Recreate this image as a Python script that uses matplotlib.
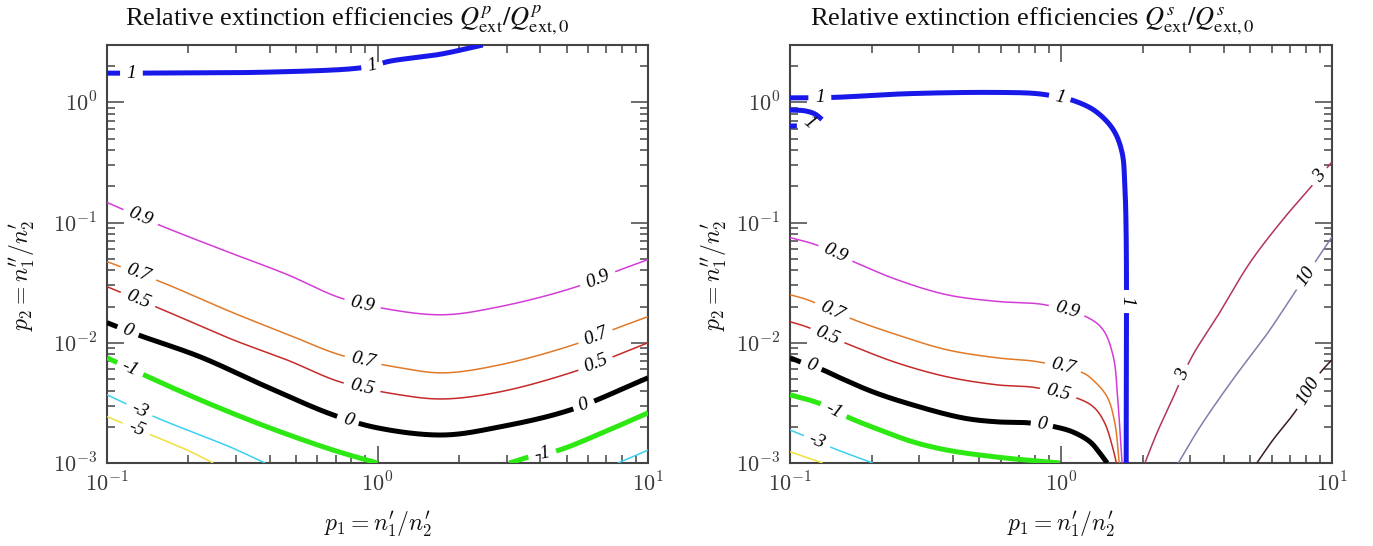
import numpy as np
import matplotlib
matplotlib.use("Agg")
import matplotlib.pyplot as plt
from matplotlib.ticker import LogLocator, FuncFormatter, NullFormatter

plt.rcParams["mathtext.fontset"] = "cm"
plt.rcParams["font.family"] = ["Liberation Serif", "DejaVu Serif"]

# ---------------- p-polarisation contours (left panel) ----------------
P_BLUE_1_X = [0.1, 0.123, 0.2, 0.377, 0.798, 0.955, 1.11, 1.70, 2.45]
P_BLUE_1_Y = [1.75, 1.75, 1.76, 1.78, 1.90, 2.01, 2.20, 2.51, 3.0]
P_BLUE_1_LBL = [(0.123, 1.75), (0.955, 2.01)]

P_MAG_09_X = [0.1, 0.1566, 0.28, 0.463, 0.726, 1.07, 1.75, 2.84, 5.3, 7.74, 10]
P_MAG_09_Y = [0.147, 0.0951, 0.057, 0.037, 0.0237, 0.0192, 0.0171, 0.020, 0.0287, 0.0398, 0.0492]
P_MAG_09_LBL = [(0.134, 0.114), (0.883, 0.0215), (6.47, 0.0348)]

P_ORA_07_X = [0.1, 0.161, 0.292, 0.463, 0.726, 1.21, 1.75, 2.84, 5.3, 7.74, 10]
P_ORA_07_Y = [0.0473, 0.0316, 0.0178, 0.0118, 0.00794, 0.0062, 0.00562, 0.00656, 0.00962, 0.01334, 0.0165]
P_ORA_07_LBL = [(0.130, 0.0369), (0.883, 0.00722), (6.37, 0.01166)]

P_RED_05_X = [0.1, 0.161, 0.292, 0.463, 0.726, 1.21, 1.75, 2.84, 5.3, 7.74, 10]
P_RED_05_Y = [0.0293, 0.0188, 0.0106, 0.0072, 0.00473, 0.00369, 0.00341, 0.00391, 0.00573, 0.00794, 0.010]
P_RED_05_LBL = [(0.130, 0.0228), (0.883, 0.00447), (6.37, 0.00695)]

P_BLK_0_X = [0.1, 0.130, 0.221, 0.390, 0.686, 1.0, 1.75, 2.84, 5.18, 10]
P_BLK_0_Y = [0.0147, 0.01166, 0.00764, 0.0043, 0.00251, 0.00196, 0.00171, 0.0020, 0.00277, 0.00511]
P_BLK_0_LBL = [(0.1197, 0.0128), (0.778, 0.00228), (5.73, 0.00316)]

P_GRN_M1_X = [0.1, 0.142, 0.221, 0.39, 0.686, 1.0]
P_GRN_M1_Y = [0.0075, 0.00521, 0.00335, 0.0020, 0.00128, 0.001]
P_GRN_M1_LBL = [(0.1216, 0.0062)]
P_GRN_M1B_X = [3.07, 3.51, 4.69, 6.76, 10]
P_GRN_M1B_Y = [0.001, 0.0011, 0.00128, 0.00178, 0.00261]
P_GRN_M1B_LBL = [(4.06, 0.00119)]

P_CYA_M3_X = [0.1, 0.150, 0.198, 0.285, 0.384]
P_CYA_M3_Y = [0.00369, 0.00242, 0.00188, 0.00136, 0.001]
P_CYA_M3_LBL = [(0.132, 0.00277)]
P_CYA_M3B_X = [7.74, 10]
P_CYA_M3B_Y = [0.001, 0.00128]

P_YEL_M5_X = [0.1, 0.1456, 0.198, 0.247]
P_YEL_M5_Y = [0.00243, 0.00171, 0.00128, 0.001]
P_YEL_M5_LBL = [(0.129, 0.0020)]

# ---------------- s-polarisation contours (right panel) ----------------
S_BLUE_1_X = [0.1, 0.145, 0.27, 0.567, 0.822, 0.99, 1.104, 1.33, 1.556, 1.68, 1.72, 1.74, 1.74]
S_BLUE_1_Y = [1.09, 1.10, 1.18, 1.21, 1.18, 1.10, 1.04, 0.855, 0.596, 0.383, 0.20, 0.0764, 0.001]
S_BLUE_1_LBL = [(0.129, 1.09), (0.99, 1.10), (1.74, 0.0215)]
S_BLUE_LOOP_X = [0.1, 0.1135, 0.1236, 0.1312]
S_BLUE_LOOP_Y = [0.863, 0.85, 0.80, 0.72]
S_BLUE_STUB_X = [0.1, 0.106]
S_BLUE_STUB_Y = [0.635, 0.637]
S_BLUE_LOOP_LBL = (0.117, 0.675)

S_MAG_09_X = [0.1, 0.124, 0.176, 0.248, 0.379, 0.579, 0.873, 1.26, 1.43, 1.56, 1.62, 1.68]
S_MAG_09_Y = [0.075, 0.0656, 0.0461, 0.0335, 0.0251, 0.0221, 0.0207, 0.01615, 0.01283, 0.00764, 0.00335, 0.001]
S_MAG_09_LBL = [(0.147, 0.056), (1.05, 0.0182)]

S_ORA_07_X = [0.1, 0.116, 0.169, 0.248, 0.380, 0.580, 0.822, 1.205, 1.31, 1.48, 1.58, 1.64]
S_ORA_07_Y = [0.0251, 0.0228, 0.0158, 0.01166, 0.00874, 0.0075, 0.00695, 0.00562, 0.00492, 0.00355, 0.00215, 0.001]
S_ORA_07_LBL = [(0.143, 0.0181), (1.02, 0.0063)]

S_RED_05_X = [0.1, 0.115, 0.166, 0.248, 0.38, 0.58, 0.815, 1.19, 1.33, 1.45, 1.56, 1.60]
S_RED_05_Y = [0.01496, 0.01359, 0.00962, 0.00681, 0.00521, 0.00447, 0.00422, 0.00335, 0.00287, 0.00215, 0.00128, 0.001]
S_RED_05_LBL = [(0.138, 0.01166), (0.975, 0.00383)]

S_BLK_0_X = [0.1, 0.109, 0.132, 0.153, 0.202, 0.284, 0.435, 0.58, 0.755, 0.95, 1.107, 1.28, 1.39, 1.48]
S_BLK_0_Y = [0.0075, 0.00695, 0.00596, 0.00511, 0.00391, 0.00304, 0.00237, 0.0022, 0.00216, 0.0020, 0.00181, 0.0015, 0.00121, 0.001]
S_BLK_0_LBL = [(0.12, 0.00656), (0.851, 0.00207)]

S_GRN_M1_X = [0.1, 0.127, 0.166, 0.215, 0.284, 0.38, 0.58, 0.99]
S_GRN_M1_Y = [0.00369, 0.00316, 0.00237, 0.00188, 0.0015, 0.00128, 0.00112, 0.001]
S_GRN_M1_LBL = [(0.144, 0.00266)]

S_CYA_M3_X = [0.1, 0.111, 0.144, 0.202]
S_CYA_M3_Y = [0.00188, 0.00171, 0.00133, 0.001]
S_CYA_M3_LBL = [(0.126, 0.00153)]

S_YEL_M5_X = [0.1, 0.132]
S_YEL_M5_Y = [0.00124, 0.001]

S_RUB_3_X = [2.04, 2.26, 2.57, 3.04, 3.77, 4.98, 6.59, 8.30, 10]
S_RUB_3_Y = [0.001, 0.00178, 0.00335, 0.00764, 0.0165, 0.0464, 0.106, 0.194, 0.32]
S_RUB_3_LBL = [(2.82, 0.00541), (8.88, 0.245)]

S_PUR_10_X = [2.71, 3.26, 4.32, 5.75, 7.18, 10]
S_PUR_10_Y = [0.001, 0.0020, 0.0050, 0.0118, 0.0250, 0.076]
S_PUR_10_LBL = [(7.94, 0.0360)]

S_DRK_100_X = [5.28, 6.06, 7.30, 9.04, 10]
S_DRK_100_Y = [0.001, 0.00156, 0.00266, 0.00562, 0.00722]
S_DRK_100_LBL = [(8.09, 0.00406)]

# level colours
C_BLUE = "#1818e8"
C_MAG = "#d43cd8"
C_ORA = "#e07a28"
C_RED = "#c62a2a"
C_BLK = "#000000"
C_GRN = "#2ee814"
C_CYA = "#3cd0f0"
C_YEL = "#f0e03c"
C_RUB = "#b3345e"
C_PUR = "#8a7aa8"
C_DRK = "#3a1c22"
THICK = 3.6
THIN = 1.1

W, H = 1373, 546
fig = plt.figure(figsize=(W / 100, H / 100), dpi=100)


def axes_px(x0, x1, y0, y1):
    return fig.add_axes([x0 / W, 1 - y1 / H, (x1 - x0) / W, (y1 - y0) / H])


axL = axes_px(107, 648, 45, 463)
axR = axes_px(790, 1332, 45, 463)

AXC = "#444444"
for ax in (axL, axR):
    ax.set_xscale("log")
    ax.set_yscale("log")
    ax.set_xlim(0.1, 10)
    ax.set_ylim(1e-3, 3)
    for axis in (ax.xaxis, ax.yaxis):
        axis.set_major_locator(LogLocator(base=10, numticks=12))
        axis.set_minor_locator(LogLocator(base=10, subs=np.arange(2, 10), numticks=12))
        axis.set_major_formatter(FuncFormatter(lambda v, p: r"$10^{%d}$" % round(np.log10(v))))
        axis.set_minor_formatter(NullFormatter())
    ax.tick_params(which="both", direction="in", top=True, right=True,
                   color=AXC, width=1.1)
    ax.tick_params(which="major", length=12, labelsize=16, pad=7, labelcolor="#3a3a3a")
    ax.tick_params(which="minor", length=6)
    for s in ax.spines.values():
        s.set_linewidth(1.5)
        s.set_color(AXC)

renderer = fig.canvas.get_renderer()


def smooth_path(P, n_per=60, alpha=0.5):
    """Centripetal Catmull-Rom curve through the given display points."""
    P = np.asarray(P, float)
    if len(P) < 3:
        t = np.linspace(0, 1, n_per)[:, None]
        return P[0] + t * (P[1] - P[0])
    ext = np.vstack([2 * P[0] - P[1], P, 2 * P[-1] - P[-2]])
    out = []
    for i in range(1, len(ext) - 2):
        p0, p1, p2, p3 = ext[i - 1], ext[i], ext[i + 1], ext[i + 2]
        t0 = 0.0
        t1 = t0 + max(np.linalg.norm(p1 - p0), 1e-6) ** alpha
        t2 = t1 + max(np.linalg.norm(p2 - p1), 1e-6) ** alpha
        t3 = t2 + max(np.linalg.norm(p3 - p2), 1e-6) ** alpha
        t = np.linspace(t1, t2, n_per, endpoint=(i == len(ext) - 3))[:, None]
        a1 = (t1 - t) / (t1 - t0) * p0 + (t - t0) / (t1 - t0) * p1
        a2 = (t2 - t) / (t2 - t1) * p1 + (t - t1) / (t2 - t1) * p2
        a3 = (t3 - t) / (t3 - t2) * p2 + (t - t2) / (t3 - t2) * p3
        b1 = (t2 - t) / (t2 - t0) * a1 + (t - t0) / (t2 - t0) * a2
        b2 = (t3 - t) / (t3 - t1) * a2 + (t - t1) / (t3 - t1) * a3
        out.append((t2 - t) / (t2 - t1) * b1 + (t - t1) / (t2 - t1) * b2)
    return np.vstack(out)


def level_text(ax, x, y, text, rot=0.0):
    return ax.text(x, y, text, fontsize=14, style="italic", ha="center", va="center",
                   rotation=rot, rotation_mode="anchor", color="black", zorder=5,
                   family=["Liberation Serif", "DejaVu Serif"])


def contour_line(ax, p1, p2, color, lw, text=None, labels=()):
    pts = ax.transData.transform(np.column_stack([p1, p2]))
    disp = smooth_path(pts)
    xs, ys = ax.transData.inverted().transform(disp).T
    keep = np.ones(len(xs), bool)
    for (a, b) in labels:
        c = ax.transData.transform((a, b))
        d = np.hypot(disp[:, 0] - c[0], disp[:, 1] - c[1])
        i = int(np.argmin(d))
        j0, j1 = max(i - 12, 0), min(i + 12, len(xs) - 1)
        ang = np.degrees(np.arctan2(disp[j1, 1] - disp[j0, 1], disp[j1, 0] - disp[j0, 0]))
        if ang > 90:
            ang -= 180
        if ang < -90:
            ang += 180
        txt = level_text(ax, xs[i], ys[i], text)
        w = txt.get_window_extent(renderer).width
        txt.set_rotation(ang)
        d = np.hypot(disp[:, 0] - disp[i, 0], disp[:, 1] - disp[i, 1])
        keep &= d > w / 2 + 6
    ax.plot(np.where(keep, xs, np.nan), ys, color=color, lw=lw,
            solid_capstyle="butt", zorder=3)


# left panel: p-polarisation
contour_line(axL, P_BLUE_1_X, P_BLUE_1_Y, C_BLUE, THICK, "1", P_BLUE_1_LBL)
contour_line(axL, P_MAG_09_X, P_MAG_09_Y, C_MAG, THIN, "0.9", P_MAG_09_LBL)
contour_line(axL, P_ORA_07_X, P_ORA_07_Y, C_ORA, THIN, "0.7", P_ORA_07_LBL)
contour_line(axL, P_RED_05_X, P_RED_05_Y, C_RED, THIN, "0.5", P_RED_05_LBL)
contour_line(axL, P_BLK_0_X, P_BLK_0_Y, C_BLK, THICK, "0", P_BLK_0_LBL)
contour_line(axL, P_GRN_M1_X, P_GRN_M1_Y, C_GRN, THICK, "-1", P_GRN_M1_LBL)
contour_line(axL, P_GRN_M1B_X, P_GRN_M1B_Y, C_GRN, THICK, "-1", P_GRN_M1B_LBL)
contour_line(axL, P_CYA_M3_X, P_CYA_M3_Y, C_CYA, THIN, "-3", P_CYA_M3_LBL)
contour_line(axL, P_CYA_M3B_X, P_CYA_M3B_Y, C_CYA, THIN)
contour_line(axL, P_YEL_M5_X, P_YEL_M5_Y, C_YEL, THIN, "-5", P_YEL_M5_LBL)

# right panel: s-polarisation
contour_line(axR, S_BLUE_1_X, S_BLUE_1_Y, C_BLUE, THICK, "1", S_BLUE_1_LBL)
contour_line(axR, S_BLUE_LOOP_X, S_BLUE_LOOP_Y, C_BLUE, THICK)
contour_line(axR, S_BLUE_STUB_X, S_BLUE_STUB_Y, C_BLUE, THICK)
level_text(axR, S_BLUE_LOOP_LBL[0], S_BLUE_LOOP_LBL[1], "1", rot=-40)
contour_line(axR, S_MAG_09_X, S_MAG_09_Y, C_MAG, THIN, "0.9", S_MAG_09_LBL)
contour_line(axR, S_ORA_07_X, S_ORA_07_Y, C_ORA, THIN, "0.7", S_ORA_07_LBL)
contour_line(axR, S_RED_05_X, S_RED_05_Y, C_RED, THIN, "0.5", S_RED_05_LBL)
contour_line(axR, S_BLK_0_X, S_BLK_0_Y, C_BLK, THICK, "0", S_BLK_0_LBL)
contour_line(axR, S_GRN_M1_X, S_GRN_M1_Y, C_GRN, THICK, "-1", S_GRN_M1_LBL)
contour_line(axR, S_CYA_M3_X, S_CYA_M3_Y, C_CYA, THIN, "-3", S_CYA_M3_LBL)
contour_line(axR, S_YEL_M5_X, S_YEL_M5_Y, C_YEL, THIN)
contour_line(axR, S_RUB_3_X, S_RUB_3_Y, C_RUB, THIN, "3", S_RUB_3_LBL)
contour_line(axR, S_PUR_10_X, S_PUR_10_Y, C_PUR, THIN, "10", S_PUR_10_LBL)
contour_line(axR, S_DRK_100_X, S_DRK_100_Y, C_DRK, THIN, "100", S_DRK_100_LBL)

# titles and axis labels
TITLE_P = r"Relative extinction efficiencies $Q^{p}_{\mathrm{ext}}/Q^{p}_{\mathrm{ext,0}}$"
TITLE_S = r"Relative extinction efficiencies $Q^{s}_{\mathrm{ext}}/Q^{s}_{\mathrm{ext,0}}$"
XLABEL = r"$p_1 = n_1'/n_2'$"
YLABEL = r"$p_2 = n_1''/n_2'$"

for cx, title in ((347, TITLE_P), (1032, TITLE_S)):
    fig.text(cx / W, 1 - 25 / H, title, ha="center", va="baseline", fontsize=19,
             math_fontfamily="stix", color="#111111")
for cx in (378, 1061):
    fig.text(cx / W, 1 - 524 / H, XLABEL, ha="center", va="center", fontsize=17,
             color="#111111")
for cx in (22, 714):
    fig.text(cx / W, 1 - 276 / H, YLABEL, ha="center", va="center", fontsize=17,
             rotation=90, color="#111111")

fig.savefig("out.png", dpi=100)
